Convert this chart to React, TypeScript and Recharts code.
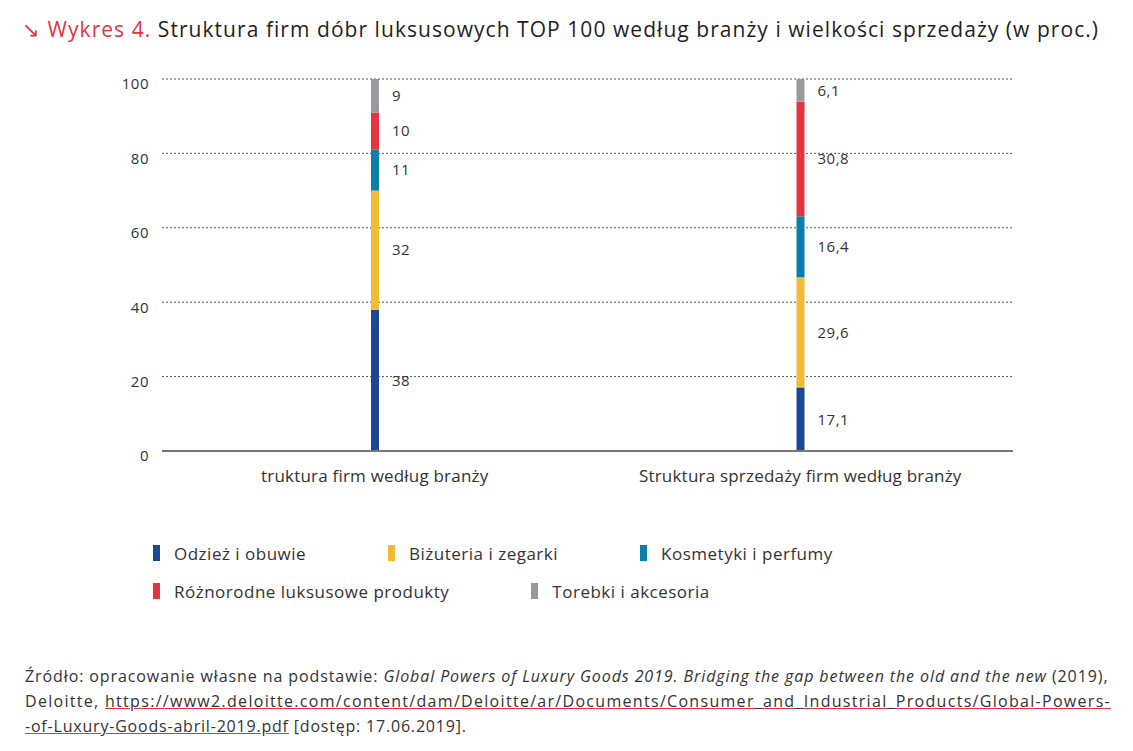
import React from "react";
import { BarChart, Bar, XAxis, YAxis, CartesianGrid, LabelList } from "recharts";

const categories = ["truktura firm według branży", "Struktura sprzedaży firm według branży"];

const odziez = [38, 17.1];
const bizuteria = [32, 29.6];
const kosmetyki = [11, 16.4];
const rozne = [10, 30.8];
const torebki = [9, 6.1];

const yTicks = [0, 20, 40, 60, 80, 100];

const series = [
  { key: "odziez", name: "Odzież i obuwie", color: "#1a4896", values: odziez },
  { key: "bizuteria", name: "Biżuteria i zegarki", color: "#f2bb33", values: bizuteria },
  { key: "kosmetyki", name: "Kosmetyki i perfumy", color: "#0a7fab", values: kosmetyki },
  { key: "rozne", name: "Różnorodne luksusowe produkty", color: "#e4343f", values: rozne },
  { key: "torebki", name: "Torebki i akcesoria", color: "#9a9a9e", values: torebki },
];

const data = categories.map((name, i) => {
  const row: Record<string, string | number> = { name };
  series.forEach((s) => {
    row[s.key] = s.values[i];
  });
  return row;
});

const FONT = "'Open Sans', 'Noto Sans', sans-serif";
const TEXT = "#333333";

const fmt = (v: number) => String(v).replace(".", ",");

const link = { textDecoration: "underline", textDecorationColor: "#e4343f" };

export default function App() {
  return (
    <div
      style={{
        position: "absolute",
        left: 0,
        top: 0,
        width: 1133,
        height: 751,
        background: "#fff",
        fontFamily: FONT,
        color: TEXT,
        overflow: "hidden",
      }}
    >
      <div
        style={{
          position: "absolute",
          left: 22,
          top: 15,
          fontSize: 21,
          letterSpacing: 1.05,
          whiteSpace: "nowrap",
          color: "#1f1f1f",
        }}
      >
        <span style={{ color: "#e4343f" }}>↘ Wykres 4.</span> Struktura firm dóbr luksusowych TOP 100 według branży i
        wielkości sprzedaży (w proc.)
      </div>

      <div style={{ position: "absolute", left: 0, top: 0 }}>
        <BarChart
          width={1133}
          height={500}
          data={data}
          margin={{ top: 79, right: 120, bottom: 9, left: 102 }}
          barSize={8}
        >
          <CartesianGrid vertical={false} stroke="#555" strokeDasharray="2 2" />
          <XAxis
            dataKey="name"
            height={40}
            tickLine={false}
            axisLine={{ stroke: "#777", strokeWidth: 2 }}
            tickMargin={13}
            tick={{ fill: TEXT, fontSize: 17, fontFamily: FONT, letterSpacing: 0.2 }}
          />
          <YAxis
            width={60}
            domain={[0, 100]}
            ticks={yTicks}
            axisLine={false}
            tickLine={false}
            tickMargin={7}
            tick={{ fill: TEXT, fontSize: 15, fontFamily: FONT, dy: 5, letterSpacing: 0.5 }}
          />
          {series.map((s) => (
            <Bar key={s.key} dataKey={s.key} stackId="a" fill={s.color} isAnimationActive={false}>
              <LabelList
                dataKey={s.key}
                position="right"
                offset={13}
                formatter={(v: number) => fmt(v)}
                style={{ fill: TEXT, fontSize: 15, fontFamily: FONT, letterSpacing: 0.5 }}
              />
            </Bar>
          ))}
        </BarChart>
      </div>

      <div
        style={{
          position: "absolute",
          left: 153,
          top: 541,
          width: 780,
          display: "flex",
          flexWrap: "wrap",
          rowGap: 14,
          fontSize: 17,
          letterSpacing: 0.5,
        }}
      >
        {series.map((s) => (
          <div key={s.key} style={{ display: "flex", alignItems: "center", marginRight: 82, height: 24 }}>
            <span style={{ display: "inline-block", width: 7, height: 16, background: s.color, marginRight: 14 }} />
            <span>{s.name}</span>
          </div>
        ))}
      </div>

      <div
        style={{
          position: "absolute",
          left: 25,
          top: 664,
          width: 1100,
          fontSize: 16,
          lineHeight: "25px",
          whiteSpace: "nowrap",
        }}
      >
        <div style={{ letterSpacing: 0.9 }}>
          Źródło: opracowanie własne na podstawie:{" "}
          <i>Global Powers of Luxury Goods 2019. Bridging the gap between the old and the new</i> (2019),
        </div>
        <div style={{ letterSpacing: 1.3 }}>
          Deloitte,{" "}
          <span style={link}>
            https://www2.deloitte.com/content/dam/Deloitte/ar/Documents/Consumer_and_Industrial_Products/Global-Powers-
          </span>
        </div>
        <div style={{ letterSpacing: 0.8 }}>
          <span style={link}>-of-Luxury-Goods-abril-2019.pdf</span> [dostęp: 17.06.2019].
        </div>
      </div>
    </div>
  );
}
